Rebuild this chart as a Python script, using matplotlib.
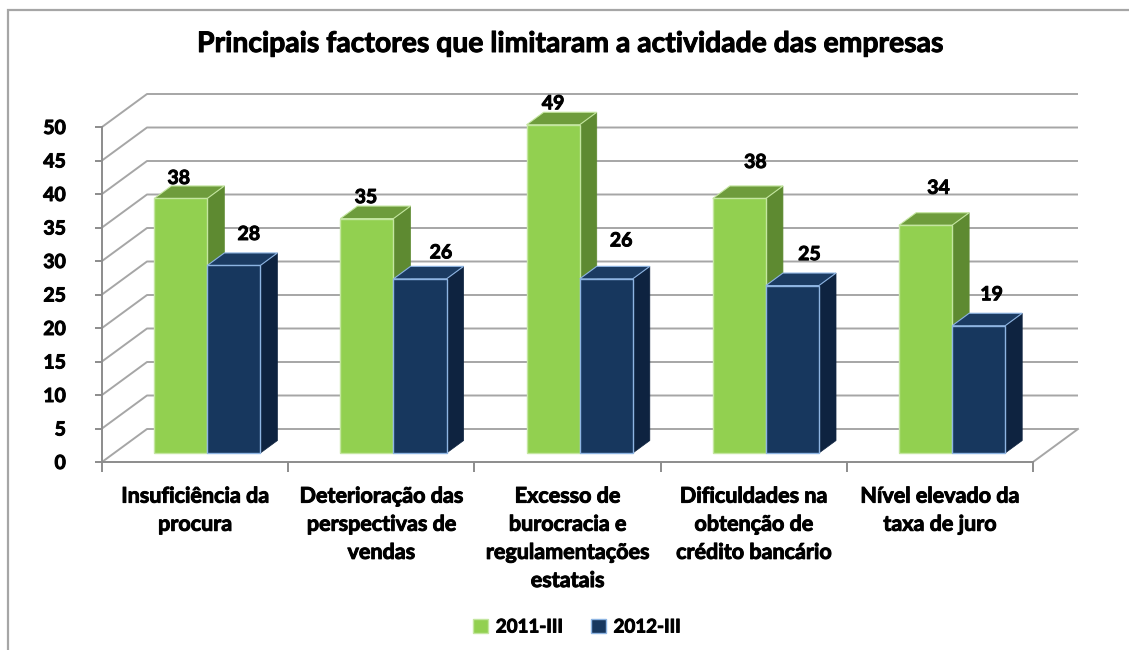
import numpy as np
import matplotlib
matplotlib.use("Agg")
from matplotlib import pyplot as plt
from matplotlib.patches import Polygon, Patch, Rectangle
import matplotlib.patheffects as pe

categories = ['Insuficiência da\nprocura',
              'Deterioração das\nperspectivas de\nvendas',
              'Excesso de\nburocracia e\nregulamentações\nestatais',
              'Dificuldades na\nobtenção de\ncrédito bancário',
              'Nível elevado da\ntaxa de juro']
series_names = ['2011-III', '2012-III']
vals_2011 = [38, 35, 49, 38, 34]
vals_2012 = [28, 26, 26, 25, 19]
y_ticks = list(range(0, 55, 5))

# Excel places 3D data labels a bit irregularly: nudges in pixels (dx, dy)
label_nudge_2011 = [(-2, 20), (-1, 21), (0, 21), (16, 36), (13, 37)]
label_nudge_2012 = [(15, 31), (21, 26), (15, 38), (17, 31), (13, 31)]

plt.rcParams['font.family'] = ['Lato', 'DejaVu Sans']
plt.rcParams['font.weight'] = 'bold'
thick = [pe.withStroke(linewidth=0.7, foreground='black')]

W, H = 1129, 650
fig = plt.figure(figsize=(W / 100, H / 100), dpi=100)
ax = fig.add_axes([102 / W, 188 / H, 931 / W, 335 / H])
n = len(categories)
ax.set_xlim(0, n)
ax.set_ylim(0, 50)

# oblique depth of the 3D box, in data units
DX = 45 / 931 * n
DY = 33 / 335 * 50
f0 = 0.27   # front of bars, fraction of depth
fd = 0.38   # bar depth, fraction of depth
bw = 0.285

grid_c = '#A6A6A6'
for v in y_ticks:
    ax.plot([0, DX, n + DX], [v, v + DY, v + DY], color=grid_c, lw=1.4,
            clip_on=False, zorder=1, solid_capstyle='butt')
ax.plot([n, n + DX], [0, DY], color=grid_c, lw=1.4, clip_on=False, zorder=1)

colors = {
    '2011-III': ('#92D050', '#5E8A31', '#6E9C3C', '#C4E6A0'),
    '2012-III': ('#17375E', '#0E2340', '#1B3B62', '#8DB4E2'),
}


def draw_bar(x0, v, name, nudge):
    front, side, top, edge = colors[name]
    x1 = x0 + bw
    yb = f0 * DY
    yt = v + f0 * DY
    ddx, ddy = fd * DX, fd * DY
    ax.add_patch(Polygon([(x1, yb), (x1 + ddx, yb + ddy), (x1 + ddx, yt + ddy), (x1, yt)],
                         closed=True, facecolor=side, edgecolor=side, lw=0.5,
                         clip_on=False, zorder=3))
    ax.add_patch(Polygon([(x0, yt), (x1, yt), (x1 + ddx, yt + ddy), (x0 + ddx, yt + ddy)],
                         closed=True, facecolor=top, edgecolor=edge, lw=0.8,
                         clip_on=False, zorder=3))
    ax.add_patch(Rectangle((x0, yb), bw, v, facecolor=front, edgecolor=edge, lw=1.0,
                           clip_on=False, zorder=3))
    ax.annotate(str(v), xy=(x0 + bw / 2, yt), xytext=nudge, textcoords='offset pixels',
                ha='center', va='center', fontsize=14, fontweight='bold',
                color='black', zorder=5, annotation_clip=False, path_effects=thick)


for i in range(n):
    c = i + 0.5 + f0 * DX
    draw_bar(c - bw, vals_2011[i], '2011-III', label_nudge_2011[i])
    draw_bar(c, vals_2012[i], '2012-III', label_nudge_2012[i])

for s in ['top', 'right']:
    ax.spines[s].set_visible(False)
for s in ['left', 'bottom']:
    ax.spines[s].set_color('#8C8C8C')
    ax.spines[s].set_linewidth(1.4)
    ax.spines[s].set_zorder(2)
ax.patch.set_visible(False)

ax.set_yticks(y_ticks)
ax.set_yticklabels([str(v) for v in y_ticks], fontsize=14, fontweight='bold')
ax.tick_params(axis='y', length=5, width=1.4, color='#8C8C8C', pad=21)
ax.set_xticks(np.arange(n) + 0.5)
ax.set_xticklabels(categories, fontsize=15.5, fontweight='bold', linespacing=1.42)
ax.set_xticks(np.arange(n + 1), minor=True)
ax.tick_params(axis='x', which='major', length=0, pad=17)
ax.tick_params(axis='x', which='minor', length=7, width=1.4, color='#8C8C8C')
for t in ax.get_xticklabels() + ax.get_yticklabels():
    t.set_path_effects(thick)

fig.text(571 / W, 1 - 44 / H, 'Principais factores que limitaram a actividade das empresas',
         ha='center', va='center', fontsize=20.4, fontweight='bold', path_effects=thick)

handles = [Patch(facecolor=colors[s][0], edgecolor=colors[s][3]) for s in series_names]
leg = fig.legend(handles, series_names, loc='center', bbox_to_anchor=(577 / W, 1 - 627 / H),
                 ncol=2, frameon=False, fontsize=13.5, handlelength=0.8, handleheight=0.8,
                 handletextpad=0.4, columnspacing=1.5)
for t in leg.get_texts():
    t.set_path_effects(thick)

fig.patches.append(Rectangle((8 / W, -0.1), 1.5, 1.1 - 10 / H, transform=fig.transFigure,
                             facecolor='none', edgecolor='#A6A6A6', lw=1.6))

fig.savefig('out.png', dpi=100)
